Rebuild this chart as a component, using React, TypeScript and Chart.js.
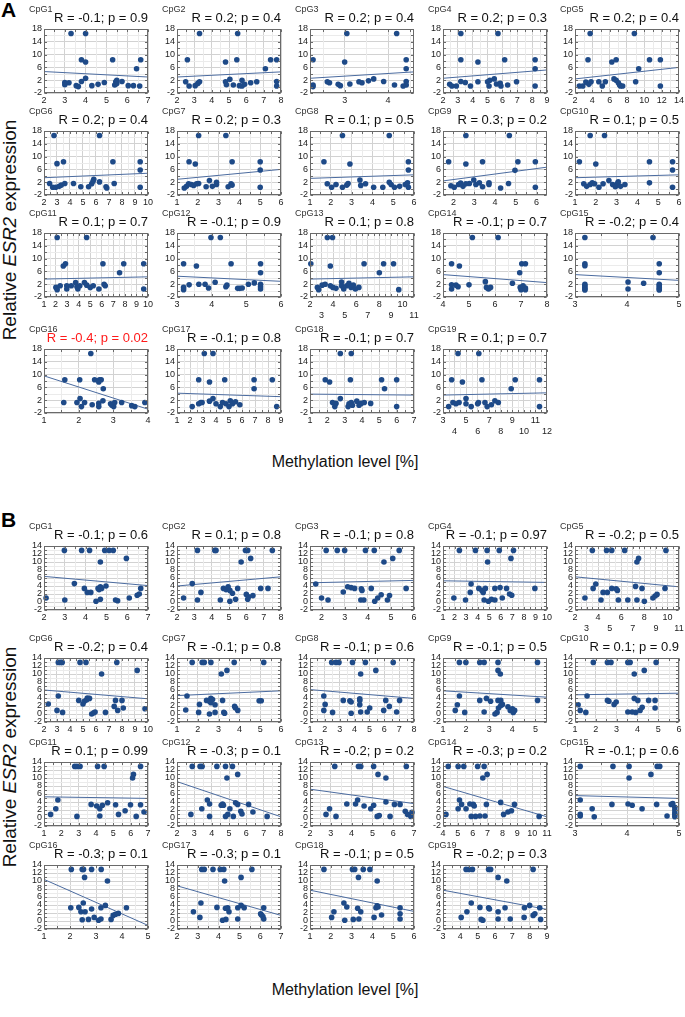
import React, { useEffect, useRef } from 'react';
import { Chart, registerables } from 'chart.js';

Chart.register(...registerables);

type Pt = [number, number];

// ---------------- Panel A: expression range -2..18 ----------------
const A_NAMES = ['CpG1', 'CpG2', 'CpG3', 'CpG4', 'CpG5', 'CpG6', 'CpG7', 'CpG8', 'CpG9', 'CpG10', 'CpG11', 'CpG12', 'CpG13', 'CpG14', 'CpG15', 'CpG16', 'CpG17', 'CpG18', 'CpG19'];
const A_STATS = ['R = -0.1; p = 0.9', 'R = 0.2; p = 0.4', 'R = 0.2; p = 0.4', 'R = 0.2; p = 0.3', 'R = 0.2; p = 0.4', 'R = 0.2; p = 0.4', 'R = 0.2; p = 0.3', 'R = 0.1; p = 0.5', 'R = 0.3; p = 0.2', 'R = 0.1; p = 0.5', 'R = 0.1; p = 0.7', 'R = -0.1; p = 0.9', 'R = 0.1; p = 0.8', 'R = -0.1; p = 0.7', 'R = -0.2; p = 0.4', 'R = -0.4; p = 0.02', 'R = -0.1; p = 0.8', 'R = -0.1; p = 0.7', 'R = 0.1; p = 0.7'];
const A_SIGNIFICANT = [15];
const A_XMIN = [2, 2, 2.2, 2, 2, 2, 1, 1, 1.5, 1, 1, 3, 2, 4, 3, 1, 1, 1, 3];
const A_XMAX = [7, 8, 4.6, 9, 14, 10, 6, 6, 6.5, 6, 10, 6, 11, 8, 5, 4, 9, 7, 12];
const A_XTICKS: number[][] = [
  [2, 3, 4, 5, 6, 7], [2, 3, 4, 5, 6, 7, 8], [3, 4], [2, 3, 4, 5, 6, 7, 8, 9], [2, 4, 6, 8, 10, 12, 14],
  [2, 3, 4, 5, 6, 7, 8, 9, 10], [1, 2, 3, 4, 5, 6], [1, 2, 3, 4, 5, 6], [2, 3, 4, 5, 6], [1, 2, 3, 4, 5, 6],
  [1, 2, 3, 4, 5, 6, 7, 8, 9, 10], [3, 4, 5, 6], [2, 3, 4, 5, 6, 7, 8, 9, 10, 11], [4, 5, 6, 7, 8], [3, 4, 5],
  [1, 2, 3, 4], [1, 2, 3, 4, 5, 6, 7, 8, 9], [1, 2, 3, 4, 5, 6, 7], [3, 4, 5, 6, 7, 8, 9, 10, 11, 12],
];
const A_TWO_ROW = [12, 18];
const A_FIT_LEFT = [4.7, 3.0, 2.6, 2.6, 2.4, 3.4, 2.9, 3.2, 2.4, 3.4, 3.6, 4.5, 3.6, 5.0, 5.0, 9.6, 4.2, 3.9, 3.6];
const A_FIT_RIGHT = [3.0, 4.6, 4.6, 5.2, 6.0, 4.8, 6.0, 4.3, 6.7, 4.3, 4.3, 2.9, 4.3, 2.5, 3.2, -0.8, 3.1, 3.6, 4.3];

const A01: Pt[] = [[3.3, 16.6], [4.0, 16.6], [3.8, 8.4], [4.0, 7.7], [5.3, 8.4], [6.65, 8.4], [6.45, 5.6], [4.0, 2.6], [3.0, 1.3], [3.0, 0.6], [3.2, 1.2], [3.55, 0.3], [3.65, 0.0], [3.8, 1.6], [4.3, 0.3], [4.6, 0.7], [4.9, 1.3], [5.45, 1.5], [5.4, 0.5], [5.5, 1.0], [5.75, 1.6], [6.05, 0.3], [6.3, 0.3], [6.6, 0.2], [5.5, 2.0]];
const A02: Pt[] = [[3.3, 16.6], [5.5, 16.6], [2.6, 8.4], [4.8, 7.7], [5.45, 8.4], [7.4, 8.4], [7.75, 8.4], [7.1, 5.6], [7.75, 1.6], [7.75, 0.2], [2.5, 1.5], [2.7, 0.2], [3.05, 0.3], [3.2, 1.0], [3.3, 1.5], [4.8, 1.5], [4.85, 0.6], [5.05, 2.3], [5.25, 0.5], [5.6, 0.3], [5.75, 0.2], [5.75, 2.0], [5.9, 0.7], [6.25, 1.2], [6.6, 1.5]];
const A03: Pt[] = [[3.05, 16.6], [4.2, 16.6], [2.27, 8.4], [3.0, 7.7], [4.42, 8.4], [4.42, 5.6], [4.42, 1.6], [4.42, 0.5], [4.35, 0.2], [4.15, 0.5], [2.27, 0.5], [2.27, 0.0], [2.6, 1.5], [2.65, 1.2], [2.85, 0.7], [2.9, 0.3], [3.12, 0.8], [3.33, 1.5], [3.4, 1.2], [3.55, 1.8], [3.67, 2.4], [3.9, 1.6]];
const A04: Pt[] = [[3.2, 16.6], [5.7, 16.6], [3.2, 8.4], [4.35, 7.7], [6.15, 8.4], [8.2, 8.4], [8.2, 5.6], [8.2, 0.2], [2.45, 0.7], [2.6, 0.2], [2.9, 0.2], [3.2, 1.6], [3.5, 1.3], [3.85, 0.2], [4.35, 1.5], [5.0, 1.5], [5.15, 2.0], [5.1, 0.2], [5.45, 2.4], [5.6, 0.8], [5.85, 1.0], [5.9, 0.2], [6.35, 0.5], [6.95, 1.5]];
const A05: Pt[] = [[3.75, 16.6], [8.85, 16.6], [3.5, 8.4], [6.25, 7.7], [6.75, 8.4], [10.6, 8.4], [11.85, 8.4], [9.35, 5.6], [9.0, 1.5], [11.85, 0.2], [2.5, 0.2], [2.9, 0.2], [3.25, 1.4], [3.6, 0.7], [3.85, 1.5], [4.75, 1.5], [5.15, 0.2], [5.5, 1.5], [6.5, 2.4], [6.75, 2.0], [7.0, 1.2], [7.15, 0.5], [7.25, 0.2], [7.5, 0.2]];
const A06: Pt[] = [[2.77, 16.6], [6.27, 16.6], [3.0, 7.8], [3.5, 8.4], [7.3, 8.4], [9.4, 8.4], [9.4, 5.8], [9.4, 0.4], [2.43, 1.6], [2.67, 0.4], [2.9, 0.4], [3.17, 0.7], [3.33, 1.1], [3.6, 1.6], [4.27, 1.6], [4.83, 0.6], [5.43, 0.6], [5.67, 1.5], [5.77, 2.3], [5.83, 2.9], [6.27, 2.1], [6.77, 0.6], [6.83, 0.2], [7.4, 1.6]];
const A07: Pt[] = [[2.04, 16.6], [3.35, 16.6], [1.58, 8.4], [1.88, 7.7], [3.65, 8.4], [5.0, 8.4], [5.0, 5.8], [5.0, 0.4], [1.35, 0.2], [1.46, 0.7], [1.56, 1.5], [1.69, 1.3], [1.8, 1.0], [1.94, 1.5], [2.04, 1.6], [2.4, 0.6], [2.56, 2.5], [2.7, 0.7], [2.9, 2.0], [2.9, 1.3], [3.46, 0.6], [3.6, 1.5], [3.65, 1.1]];
const A08: Pt[] = [[2.56, 16.6], [4.81, 16.6], [1.67, 8.4], [2.92, 7.7], [5.73, 8.4], [5.73, 5.8], [5.73, 0.4], [1.83, 1.5], [2.04, 0.4], [2.25, 1.3], [2.56, 0.4], [2.77, 1.1], [2.83, 1.6], [3.4, 2.7], [3.44, 1.0], [3.67, 1.5], [4.06, 0.4], [4.5, 0.4], [4.81, 2.0], [4.9, 1.3], [5.06, 0.4], [5.31, 0.7], [5.58, 1.3], [5.69, 1.8]];
const A09: Pt[] = [[2.6, 16.6], [4.69, 16.6], [1.77, 8.4], [2.6, 7.7], [3.4, 8.4], [5.1, 8.4], [5.94, 8.4], [4.96, 5.7], [5.94, 0.4], [4.65, 1.6], [1.88, 0.9], [2.04, 0.4], [2.25, 1.3], [2.35, 1.7], [2.46, 0.7], [2.6, 1.5], [2.77, 1.6], [2.98, 2.7], [3.08, 1.3], [3.25, 1.8], [3.4, 0.6], [3.71, 1.8], [3.71, 1.3], [4.27, 0.2]];
const A10: Pt[] = [[1.73, 16.6], [2.42, 16.6], [1.21, 8.4], [2.0, 7.7], [4.58, 8.4], [5.69, 8.4], [5.69, 5.8], [5.69, 0.4], [4.58, 1.8], [1.42, 1.5], [1.56, 0.7], [1.73, 1.3], [1.83, 1.8], [1.94, 1.5], [2.15, 0.4], [2.35, 1.5], [2.63, 2.5], [2.81, 1.3], [2.94, 0.6], [3.04, 1.6], [3.08, 2.1], [3.19, 0.7], [3.4, 1.3]];
const A11: Pt[] = [[2.14, 16.6], [4.69, 16.6], [2.67, 7.7], [2.86, 8.4], [6.1, 8.4], [7.9, 8.4], [9.63, 8.4], [7.54, 5.6], [2.03, 1.0], [2.14, 0.3], [2.4, 1.5], [2.97, 1.5], [2.97, 0.5], [3.36, 1.5], [3.74, 2.5], [3.85, 1.2], [3.93, 0.5], [4.1, 1.5], [4.5, 2.5], [4.7, 1.7], [5.0, 1.0], [5.26, 1.5], [5.75, 0.5], [6.2, 2.0], [6.3, 1.5], [9.63, 0.5]];
const A12: Pt[] = [[3.98, 16.6], [4.25, 16.6], [3.19, 8.4], [3.56, 7.7], [4.56, 8.4], [5.41, 8.4], [5.41, 5.6], [3.19, 1.0], [3.19, 0.3], [3.35, 1.8], [3.63, 2.0], [3.81, 2.0], [3.91, 0.8], [4.1, 2.6], [4.41, 1.2], [4.44, 1.7], [4.75, 0.7], [4.81, 0.7], [4.88, 0.8], [5.06, 2.0], [5.23, 2.4], [5.41, 2.0], [5.41, 1.2], [5.41, 0.5]];
const A13: Pt[] = [[3.5, 16.6], [3.95, 16.6], [2.07, 8.4], [3.76, 7.7], [6.68, 8.4], [8.37, 8.4], [9.23, 8.4], [8.0, 5.6], [2.64, 1.0], [2.75, 0.3], [3.05, 1.7], [3.31, 2.0], [3.76, 1.5], [3.98, 1.0], [4.25, 0.7], [4.73, 2.7], [4.73, 1.5], [4.92, 0.5], [5.18, 1.5], [5.37, 2.3], [5.56, 1.0], [5.75, 1.7], [5.93, 0.5], [6.23, 1.0], [9.68, 0.3]];
const A14: Pt[] = [[5.13, 16.6], [6.12, 16.6], [4.33, 8.4], [4.63, 7.7], [7.03, 8.4], [7.17, 8.4], [6.95, 5.6], [4.33, 1.8], [4.33, 0.5], [4.5, 1.7], [4.58, 1.2], [5.0, 1.8], [5.63, 2.8], [5.67, 1.0], [5.75, 0.5], [5.83, 1.0], [6.67, 2.3], [6.97, 1.0], [7.0, 0.3], [7.08, 1.5], [7.17, 0.8], [7.17, 0.3]];
const A15: Pt[] = [[3.19, 16.6], [4.5, 16.6], [3.19, 8.4], [3.19, 7.8], [4.62, 8.4], [4.62, 5.6], [3.19, 2.0], [3.19, 1.5], [3.19, 1.0], [3.19, 0.5], [3.19, 0.2], [4.02, 2.7], [4.02, 0.5], [4.32, 2.3], [4.62, 2.0], [4.62, 1.5], [4.62, 1.0], [4.62, 0.5], [4.62, 0.2]];
const A16: Pt[] = [[2.35, 16.6], [1.6, 8.4], [2.03, 8.4], [2.46, 8.4], [2.6, 8.4], [2.65, 8.4], [2.58, 7.7], [2.71, 5.6], [1.57, 1.3], [2.04, 2.5], [1.95, 1.3], [2.08, 0.0], [2.17, 1.3], [2.39, 0.6], [2.58, 1.0], [2.58, 0.0], [2.7, 1.8], [2.92, 0.9], [2.96, 0.4], [3.01, 0.0], [3.04, 1.3], [3.24, 1.3], [3.53, 0.3], [3.62, 0.0], [3.91, 1.3]];
const A17: Pt[] = [[3.1, 16.6], [3.77, 16.6], [2.67, 8.4], [3.5, 7.7], [4.67, 8.4], [6.93, 8.4], [8.33, 8.4], [6.93, 5.6], [2.17, 0.0], [2.67, 0.9], [2.83, 1.3], [2.93, 1.3], [3.5, 1.7], [3.77, 2.5], [4.0, 0.9], [4.33, 0.0], [4.5, 1.3], [4.77, 0.9], [5.0, 0.0], [5.1, 1.8], [5.27, 0.9], [5.5, 1.5], [5.83, 0.6], [8.67, 0.0]];
const A18: Pt[] = [[2.75, 16.6], [3.38, 16.6], [1.88, 8.4], [2.13, 7.7], [3.33, 8.4], [5.13, 8.4], [6.0, 8.4], [5.3, 5.6], [2.3, 1.3], [2.43, 0.0], [2.5, 1.0], [2.75, 2.5], [3.2, 0.0], [3.25, 0.9], [3.38, 1.3], [3.45, 0.4], [3.7, 1.7], [3.83, 0.4], [3.95, 1.0], [4.13, 1.3], [4.5, 1.0], [6.0, 0.0]];
const A19: Pt[] = [[4.3, 16.6], [6.1, 16.6], [3.75, 8.4], [4.68, 7.7], [6.37, 8.4], [9.25, 8.4], [11.35, 8.4], [8.9, 5.6], [3.49, 0.0], [3.86, 1.3], [4.12, 0.9], [4.39, 1.3], [4.99, 2.5], [4.99, 0.9], [5.44, 0.0], [6.0, 0.9], [6.07, 1.3], [6.63, 1.3], [6.82, 0.0], [7.19, 0.6], [7.49, 1.8], [7.79, 1.3], [11.35, 0.0]];
const A_POINTS = [A01, A02, A03, A04, A05, A06, A07, A08, A09, A10, A11, A12, A13, A14, A15, A16, A17, A18, A19];

// ---------------- Panel B: expression range -2..14 ----------------
const B_NAMES = ['CpG1', 'CpG2', 'CpG3', 'CpG4', 'CpG5', 'CpG6', 'CpG7', 'CpG8', 'CpG9', 'CpG10', 'CpG11', 'CpG12', 'CpG13', 'CpG14', 'CpG15', 'CpG16', 'CpG17', 'CpG18', 'CpG19'];
const B_STATS = ['R = -0.1; p = 0.6', 'R = 0.1; p = 0.8', 'R = -0.1; p = 0.8', 'R = -0.1; p = 0.97', 'R = -0.2; p = 0.5', 'R = -0.2; p = 0.4', 'R = -0.1; p = 0.8', 'R = -0.1; p = 0.6', 'R = -0.1; p = 0.5', 'R = 0.1; p = 0.9', 'R = 0.1; p = 0.99', 'R = -0.3; p = 0.1', 'R = -0.2; p = 0.2', 'R = -0.3; p = 0.2', 'R = -0.1; p = 0.6', 'R = -0.3; p = 0.1', 'R = -0.3; p = 0.1', 'R = -0.1; p = 0.5', 'R = -0.2; p = 0.3'];
const B_XMIN = [2, 2, 1.5, 1, 2, 2, 1, 1, 1, 1, 1, 2, 2, 4, 3, 1, 2, 1, 3];
const B_XMAX = [7, 8, 6, 10, 11, 10, 6, 8, 5.5, 6, 7, 8, 7, 11, 5, 5, 7, 6, 9];
const B_XTICKS: number[][] = [
  [2, 3, 4, 5, 6, 7], [2, 3, 4, 5, 6, 7, 8], [2, 3, 4, 5, 6], [1, 2, 3, 4, 5, 6, 7, 8, 9, 10], [2, 3, 4, 5, 6, 7, 8, 9, 10, 11],
  [2, 3, 4, 5, 6, 7, 8, 9, 10], [1, 2, 3, 4, 5, 6], [1, 2, 3, 4, 5, 6, 7, 8], [1, 2, 3, 4, 5], [1, 2, 3, 4, 5, 6],
  [1, 2, 3, 4, 5, 6, 7], [2, 3, 4, 5, 6, 7, 8], [2, 3, 4, 5, 6, 7], [4, 5, 6, 7, 8, 9, 10, 11], [3, 4, 5],
  [1, 2, 3, 4, 5], [2, 3, 4, 5, 6, 7], [1, 2, 3, 4, 5, 6], [3, 4, 5, 6, 7, 8, 9],
];
const B_TWO_ROW = [4];
const B_FIT_LEFT = [6.4, 4.0, 4.8, 5.3, 6.3, 6.0, 4.6, 6.1, 5.8, 4.8, 5.3, 9.1, 7.2, 7.9, 5.6, 10.4, 8.8, 7.7, 7.7];
const B_FIT_RIGHT = [4.1, 6.3, 5.4, 4.9, 3.8, 3.8, 5.8, 3.9, 4.2, 5.2, 4.9, 0.3, 3.6, 0.3, 4.9, -1.1, 1.4, 2.4, 2.9];

const B01: Pt[] = [[2.98, 12.9], [3.81, 12.9], [4.19, 12.9], [4.92, 12.9], [5.13, 12.9], [5.33, 12.9], [5.96, 10.9], [4.71, 10.0], [2.1, 1.0], [3.0, 0.5], [3.46, 4.6], [3.94, 3.4], [4.08, 2.4], [4.25, 2.4], [4.6, 3.4], [4.65, 3.1], [4.71, 3.8], [4.77, 3.4], [4.98, 4.0], [4.5, 0.2], [4.71, 0.7], [5.44, 0.5], [5.54, 0.3], [6.1, 1.0], [6.48, 1.7], [6.58, 2.0], [6.65, 3.4]];
const B02: Pt[] = [[3.18, 12.9], [4.18, 12.9], [4.25, 12.9], [5.95, 12.9], [6.08, 12.9], [7.5, 12.9], [6.25, 10.9], [5.7, 10.0], [2.38, 1.0], [2.88, 4.6], [3.18, 0.5], [3.38, 2.4], [4.5, 0.5], [4.68, 3.4], [4.83, 3.1], [4.95, 3.8], [5.05, 2.9], [5.2, 2.2], [5.05, 0.2], [5.38, 0.7], [5.5, 3.4], [6.0, 1.9], [6.08, 0.7], [6.13, 1.3], [6.38, 1.6], [6.83, 3.4], [7.25, 3.4]];
const B03: Pt[] = [[2.2, 12.9], [2.68, 12.9], [3.0, 12.9], [3.9, 12.9], [4.28, 12.9], [5.36, 12.9], [5.08, 10.9], [4.7, 10.0], [1.75, 4.5], [2.0, 1.0], [2.28, 0.5], [2.94, 2.5], [3.13, 3.8], [3.28, 3.6], [3.43, 3.4], [3.72, 3.3], [3.75, 2.9], [3.7, 0.5], [3.83, 0.5], [4.15, 3.4], [4.3, 0.2], [4.43, 1.0], [4.58, 1.8], [4.85, 0.5], [4.94, 1.6], [5.66, 3.4]];
const B04: Pt[] = [[2.42, 12.9], [3.81, 12.9], [4.82, 12.9], [5.87, 12.9], [7.1, 12.9], [6.88, 10.9], [4.86, 10.0], [1.94, 1.0], [2.95, 0.5], [3.43, 4.5], [3.36, 2.4], [4.1, 3.4], [4.37, 2.9], [4.48, 2.4], [4.67, 3.4], [4.56, 0.5], [4.93, 0.2], [5.19, 0.7], [5.49, 0.5], [5.49, 3.4], [5.94, 3.6], [6.13, 1.0], [6.5, 3.4], [6.76, 2.0], [6.95, 1.7], [8.95, 3.4]];
const B05: Pt[] = [[3.5, 12.9], [4.73, 12.9], [5.18, 12.9], [6.3, 12.9], [9.87, 12.9], [7.5, 10.9], [7.36, 10.0], [2.86, 1.0], [3.8, 4.5], [3.57, 3.4], [4.25, 0.5], [4.43, 2.4], [4.8, 2.4], [5.18, 3.4], [5.56, 3.3], [5.67, 2.9], [5.75, 0.5], [6.57, 0.5], [7.24, 3.9], [7.36, 0.5], [7.8, 3.4], [8.0, 0.2], [8.74, 1.0], [8.93, 1.5], [9.1, 1.9], [9.79, 3.4]];
const B06: Pt[] = [[3.1, 12.9], [3.27, 12.9], [3.4, 12.9], [4.77, 12.9], [5.23, 12.9], [7.6, 12.9], [9.17, 10.9], [6.43, 10.0], [2.33, 2.5], [3.0, 0.9], [3.1, 4.5], [3.43, 0.4], [4.67, 3.4], [5.0, 2.5], [5.1, 3.2], [5.27, 3.5], [5.33, 4.0], [5.5, 3.9], [5.67, 0.0], [5.83, 0.3], [5.93, 0.5], [6.73, 0.4], [7.4, 1.9], [7.67, 0.9], [8.0, 3.4], [8.1, 1.5], [7.5, 3.4], [9.77, 1.3]];
const B07: Pt[] = [[1.73, 12.9], [2.21, 12.9], [2.31, 12.9], [2.63, 12.9], [3.75, 12.9], [5.17, 12.9], [3.4, 10.9], [3.13, 10.0], [1.42, 1.0], [1.48, 4.5], [2.04, 0.4], [2.08, 2.4], [2.42, 3.4], [2.56, 3.2], [2.63, 3.9], [2.63, 2.8], [2.71, 3.6], [2.56, 0.0], [2.83, 2.3], [2.83, 0.4], [3.19, 3.4], [3.25, 0.4], [3.29, 0.2], [3.77, 1.9], [3.81, 1.5], [3.92, 0.9], [4.95, 3.3], [5.05, 3.3]];
const B08: Pt[] = [[2.46, 12.9], [2.75, 12.9], [2.95, 12.9], [3.86, 12.9], [4.73, 12.9], [6.6, 12.9], [5.43, 10.9], [4.41, 10.0], [1.93, 4.5], [2.02, 2.4], [1.93, 0.9], [2.52, 0.4], [3.24, 3.4], [3.68, 3.3], [3.77, 3.0], [3.77, 0.2], [4.35, 3.8], [4.35, 3.4], [4.35, 2.3], [4.41, 0.5], [4.85, 0.5], [5.02, 1.5], [5.96, 0.9], [6.1, 3.4], [6.34, 1.9], [6.83, 0.5], [7.03, 3.4]];
const B09: Pt[] = [[1.71, 12.9], [1.99, 12.9], [2.59, 12.9], [2.78, 12.9], [3.38, 12.9], [5.09, 12.9], [3.38, 10.9], [3.48, 10.0], [1.53, 0.9], [1.62, 2.3], [1.71, 4.5], [1.94, 0.4], [2.59, 3.4], [2.78, 0.5], [2.88, 3.9], [3.06, 3.2], [3.25, 0.0], [3.34, 0.4], [3.38, 3.4], [3.5, 3.4], [3.4, 1.5], [3.5, 2.1], [3.57, 2.4], [3.81, 1.8], [3.91, 0.9], [4.0, 1.3], [4.04, 0.4], [4.1, 0.9], [5.09, 3.4]];
const B10: Pt[] = [[1.88, 12.9], [2.56, 12.9], [2.73, 12.9], [3.54, 12.9], [3.65, 12.9], [4.9, 12.9], [4.33, 10.9], [3.85, 10.0], [1.15, 2.3], [1.25, 0.9], [1.52, 0.4], [1.58, 4.5], [2.56, 3.4], [2.63, 3.2], [2.88, 2.4], [2.98, 3.0], [3.54, 0.5], [3.75, 0.5], [3.85, 3.9], [3.92, 0.4], [4.02, 3.4], [4.13, 0.9], [4.23, 1.7], [4.54, 3.4], [4.85, 3.4], [4.85, 1.5]];
const B11: Pt[] = [[2.77, 12.9], [2.9, 12.9], [3.08, 12.9], [4.09, 12.9], [4.47, 12.9], [6.57, 12.9], [6.16, 10.9], [6.11, 10.0], [1.38, 0.9], [1.68, 2.3], [1.8, 4.5], [2.9, 0.4], [3.72, 3.4], [4.04, 3.0], [4.22, 2.3], [4.22, 0.5], [4.37, 3.2], [4.67, 3.8], [5.13, 3.3], [5.3, 0.9], [5.68, 1.8], [5.99, 3.3], [6.32, 0.4], [6.57, 3.3], [6.77, 1.5]];
const B12: Pt[] = [[2.88, 12.9], [3.33, 12.9], [3.45, 12.9], [4.3, 12.9], [4.8, 12.9], [5.2, 12.9], [5.5, 10.9], [4.88, 10.0], [2.8, 0.9], [3.43, 2.3], [3.75, 4.5], [3.88, 3.5], [3.88, 0.4], [4.55, 3.2], [4.63, 3.5], [4.68, 3.2], [4.8, 0.4], [4.93, 0.9], [5.05, 2.3], [5.25, 0.4], [5.38, 3.8], [5.5, 3.4], [5.68, 1.7], [5.75, 1.0], [6.13, 3.4], [6.38, 1.5], [7.2, 0.4]];
const B13: Pt[] = [[3.19, 12.9], [4.33, 12.9], [4.44, 12.9], [5.06, 12.9], [6.63, 12.9], [5.27, 10.9], [5.65, 10.0], [2.77, 0.9], [2.94, 2.3], [3.25, 0.4], [3.77, 3.5], [4.19, 3.5], [4.29, 4.5], [4.6, 3.0], [4.92, 2.3], [5.06, 3.2], [5.23, 0.4], [5.33, 0.6], [5.65, 4.0], [5.85, 0.4], [6.06, 3.4], [6.33, 3.4], [6.58, 1.7], [6.69, 0.9], [6.85, 0.4], [6.9, 1.4]];
const B14: Pt[] = [[4.35, 12.9], [5.02, 12.9], [5.4, 12.9], [6.33, 12.9], [6.77, 12.9], [6.97, 10.9], [6.68, 10.0], [4.2, 0.9], [5.02, 2.3], [5.11, 4.5], [5.25, 3.4], [5.55, 2.3], [5.81, 3.5], [5.9, 0.4], [6.04, 3.4], [6.1, 3.0], [6.19, 0.4], [6.48, 0.5], [6.83, 0.5], [6.92, 3.4], [7.88, 3.9], [8.08, 0.9], [8.37, 1.5], [8.61, 1.8], [8.81, 3.4], [10.47, 0.4]];
const B15: Pt[] = [[3.1, 12.9], [3.73, 12.9], [4.04, 12.9], [4.58, 12.9], [4.63, 12.9], [4.46, 10.9], [4.04, 10.0], [3.1, 4.5], [3.1, 0.9], [3.1, 0.5], [3.33, 2.3], [3.37, 0.3], [3.71, 3.4], [4.02, 3.5], [4.1, 3.2], [4.29, 2.3], [4.57, 3.4], [4.77, 0.5], [4.85, 3.4], [4.88, 3.6], [4.92, 2.7], [4.92, 2.0], [4.92, 1.3], [4.92, 0.8], [4.92, 0.3]];
const B16: Pt[] = [[2.05, 12.9], [2.47, 12.9], [2.52, 12.9], [2.83, 12.9], [3.2, 12.9], [2.56, 10.9], [3.44, 10.0], [2.03, 3.3], [2.34, 3.4], [2.42, 2.3], [2.47, 0.3], [2.51, 4.5], [2.58, 2.3], [2.71, 0.4], [2.83, 3.0], [2.93, 0.9], [3.1, 0.2], [3.19, 0.5], [3.19, 3.3], [3.36, 3.9], [3.58, 0.4], [3.66, 1.4], [3.75, 1.7], [3.86, 1.9], [4.17, 3.3]];
const B17: Pt[] = [[3.19, 12.9], [3.31, 12.9], [3.73, 12.9], [4.08, 12.9], [4.25, 12.9], [5.6, 12.9], [5.08, 10.9], [4.29, 10.0], [2.79, 2.3], [3.1, 0.9], [3.15, 4.5], [3.92, 3.4], [4.19, 0.2], [4.33, 3.2], [4.35, 0.4], [4.44, 3.3], [4.5, 2.3], [4.92, 3.3], [4.92, 0.5], [5.08, 3.9], [5.23, 3.3], [6.02, 1.8], [6.06, 1.5], [6.13, 1.1], [6.17, 0.5], [6.17, 3.3]];
const B18: Pt[] = [[1.67, 12.9], [3.04, 12.9], [3.15, 12.9], [3.56, 12.9], [3.88, 12.9], [3.33, 10.9], [4.23, 10.0], [2.04, 0.9], [2.15, 2.3], [2.63, 4.5], [2.67, 0.2], [2.77, 3.5], [3.08, 0.4], [3.29, 3.2], [3.35, 0.5], [3.44, 2.3], [4.08, 0.9], [4.17, 3.3], [4.23, 3.8], [4.27, 3.5], [4.44, 1.5], [5.33, 3.3], [5.33, 1.8], [5.33, 0.5]];
const B19: Pt[] = [[4.33, 12.9], [4.5, 12.9], [4.7, 12.9], [5.63, 12.9], [5.75, 12.9], [8.2, 12.9], [6.18, 10.9], [6.68, 10.0], [4.05, 0.9], [4.38, 2.3], [4.63, 4.5], [5.13, 3.4], [5.2, 0.4], [5.3, 0.2], [5.63, 3.3], [5.68, 3.0], [6.18, 2.3], [6.18, 0.5], [6.58, 3.3], [6.88, 0.5], [7.68, 0.9], [7.7, 3.3], [8.0, 3.9], [8.2, 1.4], [8.3, 1.8], [8.58, 3.3], [8.63, 0.4]];
const B_POINTS = [B01, B02, B03, B04, B05, B06, B07, B08, B09, B10, B11, B12, B13, B14, B15, B16, B17, B18, B19];

// ---------------- layout ----------------
const FONT = '"Liberation Sans", Arial, Helvetica, sans-serif';
const COLS = [44, 177, 310, 443, 575];
const PLOT_W = 104;
const A_ROWS = [29, 131, 233, 349];
const B_ROWS = [546, 658, 762, 865];
const A_PLOT_H = 64;
const B_PLOT_H = 64;
const YW = 17;
const PR = 7;
const TH = 20;

const POINT_COLOR = '#1e4a88';
const LINE_COLOR = '#4b6b9f';

interface Spec {
  name: string; stat: string; statColor: string; pts: Pt[];
  xmin: number; xmax: number; xticks: number[]; twoRow: boolean;
  fitL: number; fitR: number; ymin: number; ymax: number; ystep: number;
  left: number; top: number; plotH: number; cpgDy: number;
}

function minorList(ticks: number[], min: number, max: number): number[] {
  if (ticks.length < 2) return [];
  const step = ticks[1] - ticks[0];
  const out: number[] = [];
  for (let v = ticks[0] - step / 2; v > min + 1e-6; v -= step) out.push(v);
  for (let v = ticks[0] + step / 2; v < max - 1e-6; v += step) out.push(v);
  return out;
}

const framePlugin = {
  id: 'frameMinor',
  beforeDatasetsDraw(chart: any) {
    const { ctx, chartArea: a, scales } = chart;
    const xs = scales.x, ys = scales.y;
    const xt: number[] = xs.ticks.map((t: any) => t.value);
    const yt: number[] = ys.ticks.map((t: any) => t.value);
    ctx.save();
    ctx.strokeStyle = '#ebebeb';
    ctx.lineWidth = 1;
    ctx.beginPath();
    for (const v of minorList(xt, xs.min, xs.max)) { const p = Math.round(xs.getPixelForValue(v)) + 0.5; ctx.moveTo(p, a.top); ctx.lineTo(p, a.bottom); }
    for (const v of minorList(yt, ys.min, ys.max)) { const p = Math.round(ys.getPixelForValue(v)) + 0.5; ctx.moveTo(a.left, p); ctx.lineTo(a.right, p); }
    ctx.stroke();
    ctx.restore();
  },
  afterDraw(chart: any) {
    const { ctx, chartArea: a, scales } = chart;
    const xs = scales.x, ys = scales.y;
    const xt: number[] = xs.ticks.map((t: any) => t.value);
    const yt: number[] = ys.ticks.map((t: any) => t.value);
    ctx.save();
    ctx.strokeStyle = '#6a6a6a';
    ctx.lineWidth = 1;
    const l = Math.round(a.left) + 0.5, r = Math.round(a.right) - 0.5, t = Math.round(a.top) + 0.5, b = Math.round(a.bottom) - 0.5;
    ctx.strokeRect(l, t, r - l, b - t);
    ctx.beginPath();
    const allX = xt.concat(minorList(xt, xs.min, xs.max));
    const allY = yt.concat(minorList(yt, ys.min, ys.max));
    for (const v of allX) {
      const p = Math.round(xs.getPixelForValue(v)) + 0.5;
      ctx.moveTo(p, b); ctx.lineTo(p, b - 2.5);
      ctx.moveTo(p, t); ctx.lineTo(p, t + 2.5);
    }
    for (const v of allY) {
      const p = Math.round(ys.getPixelForValue(v)) + 0.5;
      ctx.moveTo(l, p); ctx.lineTo(l + 2.5, p);
      ctx.moveTo(r, p); ctx.lineTo(r - 2.5, p);
    }
    ctx.stroke();
    ctx.restore();
  },
};

function Panel({ spec }: { spec: Spec }) {
  const ref = useRef<HTMLCanvasElement>(null);
  const xh = spec.twoRow ? 25 : 13;
  const width = YW + PLOT_W + PR;
  const height = TH + spec.plotH + xh;
  useEffect(() => {
    const canvas = ref.current;
    if (!canvas) return;
    const tickFont = { family: FONT, size: 9 };
    const chart = new Chart(canvas, {
      type: 'scatter',
      data: {
        datasets: [
          {
            data: spec.pts.map(([x, y]) => ({ x, y })),
            backgroundColor: POINT_COLOR,
            borderColor: POINT_COLOR,
            borderWidth: 0,
            pointRadius: 2.8,
            clip: false,
          } as any,
          {
            data: [{ x: spec.xmin, y: spec.fitL }, { x: spec.xmax, y: spec.fitR }],
            showLine: true,
            borderColor: LINE_COLOR,
            borderWidth: 1,
            pointRadius: 0,
            fill: false,
          } as any,
        ],
      },
      options: {
        responsive: false,
        animation: false,
        events: [],
        layout: { padding: { left: 0, right: PR, top: 0, bottom: 0 } },
        plugins: {
          legend: { display: false },
          tooltip: { enabled: false },
          title: {
            display: true,
            text: spec.stat,
            align: 'end',
            color: spec.statColor,
            font: { family: FONT, size: 13, weight: 'normal', lineHeight: 1.2 },
            padding: { top: 2, bottom: 2.4 },
          },
        },
        scales: {
          x: {
            type: 'linear',
            position: 'bottom',
            min: spec.xmin,
            max: spec.xmax,
            afterBuildTicks: (s: any) => { s.ticks = spec.xticks.map((v) => ({ value: v })); },
            afterFit: (s: any) => { s.height = xh; },
            ticks: {
              font: tickFont,
              color: '#222',
              padding: 2,
              autoSkip: false,
              maxRotation: 0,
              callback: (v: any, i: number) => (spec.twoRow && i % 2 === 1 ? ['', String(v)] : String(v)),
            },
            grid: { color: '#d2d2d2', lineWidth: 1, drawTicks: false },
            border: { display: false },
          },
          y: {
            type: 'linear',
            position: 'left',
            min: spec.ymin,
            max: spec.ymax,
            afterFit: (s: any) => { s.width = YW; },
            ticks: { stepSize: spec.ystep, font: tickFont, color: '#222', padding: 2, autoSkip: false },
            grid: { color: '#d2d2d2', lineWidth: 1, drawTicks: false },
            border: { display: false },
          },
        },
      } as any,
      plugins: [framePlugin],
    });
    return () => chart.destroy();
  }, []);
  return (
    <>
      <canvas
        ref={ref}
        width={width}
        height={height}
        style={{ position: 'absolute', left: spec.left - YW, top: spec.top - TH, width, height }}
      />
      <div
        style={{
          position: 'absolute', left: spec.left - 15, top: spec.top - spec.cpgDy,
          font: `9px ${FONT}`, color: '#333', whiteSpace: 'nowrap', lineHeight: '11px',
        }}
      >
        {spec.name}
      </div>
    </>
  );
}

function buildSpecs(): Spec[] {
  const specs: Spec[] = [];
  for (let i = 0; i < 19; i++) {
    specs.push({
      name: A_NAMES[i], stat: A_STATS[i], statColor: A_SIGNIFICANT.includes(i) ? '#ff1a1a' : '#111',
      pts: A_POINTS[i], xmin: A_XMIN[i], xmax: A_XMAX[i], xticks: A_XTICKS[i], twoRow: A_TWO_ROW.includes(i),
      fitL: A_FIT_LEFT[i], fitR: A_FIT_RIGHT[i], ymin: -2, ymax: 18, ystep: 4,
      left: COLS[i % 5], top: A_ROWS[Math.floor(i / 5)], plotH: A_PLOT_H, cpgDy: 25,
    });
  }
  for (let i = 0; i < 19; i++) {
    specs.push({
      name: B_NAMES[i], stat: B_STATS[i], statColor: '#111',
      pts: B_POINTS[i], xmin: B_XMIN[i], xmax: B_XMAX[i], xticks: B_XTICKS[i], twoRow: B_TWO_ROW.includes(i),
      fitL: B_FIT_LEFT[i], fitR: B_FIT_RIGHT[i], ymin: -2, ymax: 14, ystep: 2,
      left: COLS[i % 5], top: B_ROWS[Math.floor(i / 5)], plotH: B_PLOT_H, cpgDy: 25,
    });
  }
  return specs;
}

const SPECS = buildSpecs();

function YTitle({ cy }: { cy: number }) {
  return (
    <div
      style={{
        position: 'absolute', left: 10, top: cy, transform: 'translate(-50%, -50%) rotate(-90deg)',
        font: `19px ${FONT}`, color: '#111', whiteSpace: 'nowrap',
      }}
    >
      Relative <i>ESR2</i> expression
    </div>
  );
}

function XTitle({ cy }: { cy: number }) {
  return (
    <div
      style={{
        position: 'absolute', left: 345, top: cy, transform: 'translate(-50%, -50%)',
        font: `16px ${FONT}`, color: '#111', whiteSpace: 'nowrap',
      }}
    >
      Methylation level [%]
    </div>
  );
}

export default function App() {
  useEffect(() => {
    document.body.style.margin = '0';
  }, []);
  return (
    <div style={{ position: 'absolute', left: 0, top: 0, width: 685, height: 1017, background: '#fff', overflow: 'hidden' }}>
      <div style={{ position: 'absolute', left: 1, top: -2, font: `bold 21px ${FONT}`, color: '#000' }}>A</div>
      <div style={{ position: 'absolute', left: 1, top: 508, font: `bold 21px ${FONT}`, color: '#000' }}>B</div>
      <YTitle cy={230} />
      <YTitle cy={757} />
      <XTitle cy={462} />
      <XTitle cy={990} />
      {SPECS.map((s, i) => <Panel key={i} spec={s} />)}
    </div>
  );
}
